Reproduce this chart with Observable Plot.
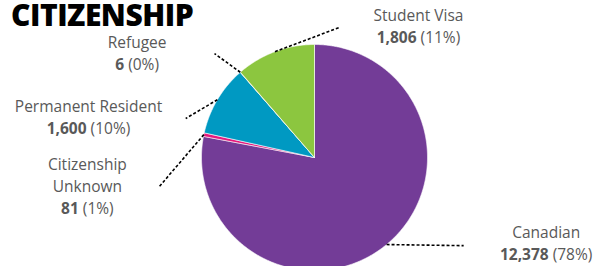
<!DOCTYPE html>
<html><head><meta charset="utf-8">
<script src="https://cdn.jsdelivr.net/npm/d3@7"></script>
<script src="https://cdn.jsdelivr.net/npm/@observablehq/plot@0.6"></script>
<style>
html,body{margin:0;padding:0;background:#fff;}
#wrap{position:relative;width:599px;height:266px;overflow:hidden;}
#title{position:absolute;left:11px;top:3.5px;font-family:"Open Sans",sans-serif;font-weight:800;font-size:30px;line-height:22px;letter-spacing:-0.5px;color:#000;margin:0;}
</style></head><body>
<div id="wrap"><div id="chart"></div><h1 id="title">CITIZENSHIP</h1></div>
<script>
// ---- data ----
const categories = ["Canadian", "Citizenship Unknown", "Permanent Resident", "Refugee", "Student Visa"];
const labels = ["Canadian", "Citizenship\nUnknown", "Permanent Resident", "Refugee", "Student Visa"];
const counts = [12378, 81, 1600, 6, 1806];
const colors = ["#733C97", "#E5197D", "#0099C2", "#F7941D", "#8CC63F"];
// ---- layout (in pie-radius units, centre = 0,0, y downward) ----
const labelX = [2.05, -2.01, -2.0, -1.57, 0.92];
const labelY = [0.67, 0.07, -0.45, -1.01, -1.25];
const leaderX = [1.32, -1.38, -1.14, -0.885, 0.22];
const leaderY = [0.78, 0.265, -0.345, -0.92, -1.15];

const W = 599, H = 266, R = 113, CX = 314, CY = 157, LINE = 22, FS = 15.5;

const total = d3.sum(counts);
const pct = d3.format(".0%");
const arcs = d3.pie().sort(null).value(d => d)(counts);

const poly = [];
arcs.forEach((a, i) => {
  const n = Math.max(2, Math.ceil((a.endAngle - a.startAngle) / 0.008));
  poly.push({cat: categories[i], x: 0, y: 0});
  for (let k = 0; k <= n; k++) {
    const t = a.startAngle + (a.endAngle - a.startAngle) * k / n;
    poly.push({cat: categories[i], x: Math.sin(t), y: -Math.cos(t)});
  }
  poly.push({cat: categories[i], x: 0, y: 0});
});

const leaders = categories.map((c, i) => {
  const m = (arcs[i].startAngle + arcs[i].endAngle) / 2;
  return {x1: Math.sin(m), y1: -Math.cos(m), x2: leaderX[i], y2: leaderY[i]};
});

const textRows = [];
categories.forEach((c, i) => {
  const lines = labels[i].split("\n");
  lines.forEach((t, k) => textRows.push({x: labelX[i], y: labelY[i] + k * LINE / R, text: t, val: false}));
  textRows.push({
    x: labelX[i], y: labelY[i] + lines.length * LINE / R, val: true,
    text: d3.format(",")(counts[i]) + " (" + pct(counts[i] / total) + ")"
  });
});

const font = '"Open Sans", sans-serif';
const plot = Plot.plot({
  width: W, height: H, margin: 0,
  x: {domain: [-CX / R, (W - CX) / R], range: [0, W], axis: null},
  y: {domain: [-CY / R, (H - CY) / R], range: [0, H], axis: null},
  color: {domain: categories, range: colors},
  style: {fontFamily: font, background: "#fff"},
  marks: [
    Plot.line(poly, {x: "x", y: "y", z: "cat", fill: "cat", stroke: "#fff", strokeWidth: 0.6, curve: "linear"}),
    Plot.link(leaders, {x1: "x1", y1: "y1", x2: "x2", y2: "y2", stroke: "#000", strokeWidth: 1.6, strokeDasharray: "3,2"}),
    Plot.text(textRows.filter(d => !d.val), {x: "x", y: "y", text: "text", fill: "#595959", fontSize: FS, lineAnchor: "middle"}),
    Plot.text(textRows.filter(d => d.val), {x: "x", y: "y", text: "text", fill: "#595959", fontSize: FS, lineAnchor: "middle", className: "val"})
  ]
});
document.getElementById("chart").appendChild(plot);

d3.select(plot).selectAll(".val text").each(function () {
  const s = this.textContent;
  const i = s.indexOf(" ");
  const el = d3.select(this);
  el.text(null);
  el.append("tspan").attr("font-weight", "bold").text(s.slice(0, i));
  el.append("tspan").text(s.slice(i));
});
</script>
</body></html>
